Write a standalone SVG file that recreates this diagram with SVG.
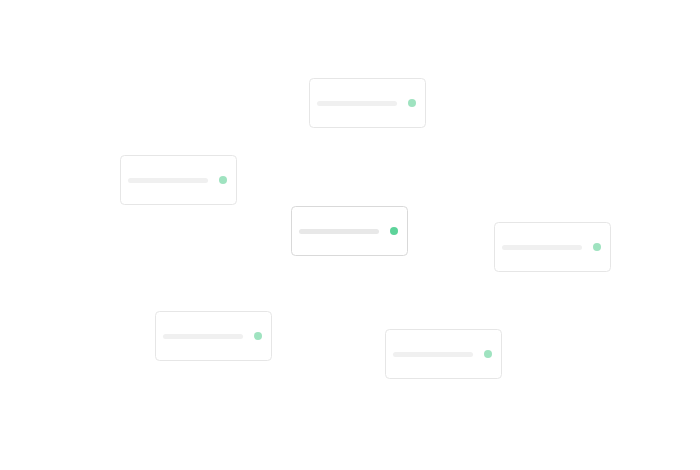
<svg xmlns="http://www.w3.org/2000/svg" width="700" height="470" viewBox="0 0 700 470">
<style>
.card{fill:#ffffff;stroke:#e6e6e6;stroke-width:1}
.bar{fill:#f0f0f0}
.dot{fill:#9fe3c0}
.main .card{stroke:#d9d9d9}
.main .bar{fill:#e8e8e8}
.main .dot{fill:#5dd39a}
</style>
<rect width="700" height="470" fill="#ffffff"/>
<g id="connectors"></g>
<g id="node-center" class="main">
<rect class="card" x="291.5" y="206.5" width="116" height="49" rx="4"/>
<rect class="bar" x="299" y="229" width="80" height="5" rx="2.5"/>
<circle class="dot" cx="394" cy="231" r="4"/>
</g>
<g id="node-top">
<rect class="card" x="309.5" y="78.5" width="116" height="49" rx="4"/>
<rect class="bar" x="317" y="101" width="80" height="5" rx="2.5"/>
<circle class="dot" cx="412" cy="103" r="4"/>
</g>
<g id="node-left">
<rect class="card" x="120.5" y="155.5" width="116" height="49" rx="4"/>
<rect class="bar" x="128" y="178" width="80" height="5" rx="2.5"/>
<circle class="dot" cx="223" cy="180" r="4"/>
</g>
<g id="node-right">
<rect class="card" x="494.5" y="222.5" width="116" height="49" rx="4"/>
<rect class="bar" x="502" y="245" width="80" height="5" rx="2.5"/>
<circle class="dot" cx="597" cy="247" r="4"/>
</g>
<g id="node-bottom-left">
<rect class="card" x="155.5" y="311.5" width="116" height="49" rx="4"/>
<rect class="bar" x="163" y="334" width="80" height="5" rx="2.5"/>
<circle class="dot" cx="258" cy="336" r="4"/>
</g>
<g id="node-bottom-right">
<rect class="card" x="385.5" y="329.5" width="116" height="49" rx="4"/>
<rect class="bar" x="393" y="352" width="80" height="5" rx="2.5"/>
<circle class="dot" cx="488" cy="354" r="4"/>
</g>
</svg>
